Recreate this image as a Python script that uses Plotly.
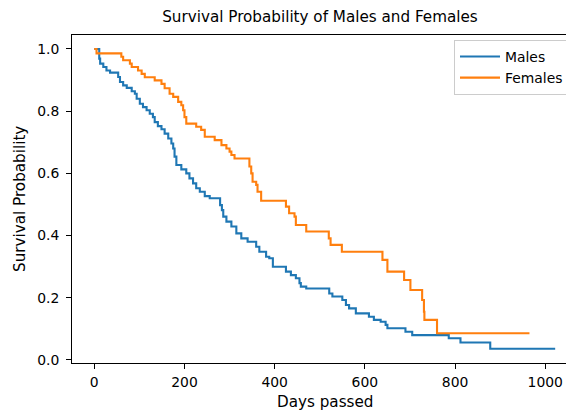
import plotly.graph_objects as go

# Kaplan-Meier step points (day, survival probability)
male_days = [0, 11, 13, 20, 27, 35, 53, 57, 64, 72, 83, 90, 94, 101, 108, 116, 123, 130, 134,
             141, 149, 156, 164, 171, 175, 178, 182, 193, 204, 211, 219, 226, 234, 245, 256,
             279, 283, 286, 293, 304, 315, 326, 340, 359, 366, 381, 388, 396, 425, 436, 447,
             455, 458, 470, 521, 528, 550, 558, 565, 580, 609, 620, 635, 646, 650, 690, 705,
             786, 812, 878, 1022]
male_surv = [1.0, 0.969, 0.953, 0.942, 0.931, 0.924, 0.910, 0.894, 0.883, 0.875, 0.864, 0.856,
             0.840, 0.824, 0.813, 0.803, 0.792, 0.781, 0.765, 0.752, 0.742, 0.728, 0.712, 0.696,
             0.680, 0.654, 0.627, 0.613, 0.600, 0.584, 0.568, 0.552, 0.541, 0.527, 0.520, 0.498,
             0.482, 0.461, 0.445, 0.429, 0.407, 0.391, 0.380, 0.364, 0.348, 0.332, 0.327, 0.300,
             0.284, 0.273, 0.263, 0.247, 0.236, 0.230, 0.214, 0.204, 0.193, 0.177, 0.166, 0.150,
             0.139, 0.129, 0.123, 0.113, 0.102, 0.091, 0.080, 0.070, 0.056, 0.036, 0.036]

female_days = [0, 5, 60, 64, 79, 83, 97, 105, 112, 134, 149, 156, 167, 175, 186, 193, 197, 200,
               204, 226, 237, 245, 267, 282, 293, 300, 304, 311, 344, 348, 351, 359, 362, 370,
               425, 432, 444, 447, 470, 520, 524, 549, 639, 650, 687, 701, 727, 731, 732, 760, 965]
female_surv = [1.0, 0.986, 0.975, 0.964, 0.953, 0.942, 0.931, 0.920, 0.909, 0.899, 0.888, 0.874,
               0.856, 0.846, 0.830, 0.819, 0.803, 0.781, 0.760, 0.750, 0.740, 0.718, 0.707, 0.691,
               0.680, 0.670, 0.659, 0.648, 0.622, 0.600, 0.573, 0.563, 0.541, 0.512, 0.493, 0.472,
               0.461, 0.434, 0.413, 0.391, 0.370, 0.348, 0.322, 0.284, 0.257, 0.225, 0.193, 0.155,
               0.129, 0.086, 0.086]

series_names = ["Males", "Females"]
series_colors = ["#1f77b4", "#ff7f0e"]
x_ticks = [0, 200, 400, 600, 800, 1000]
y_ticks = [0.0, 0.2, 0.4, 0.6, 0.8, 1.0]

FONT = "DejaVu Sans"
W, H = 566, 413
PL, PT, PB = 72, 35, 363          # plot-area pixel edges
PW, PH = W - PL, PB - PT

fig = go.Figure()
for name, xs, ys, col in [(series_names[0], male_days, male_surv, series_colors[0]),
                          (series_names[1], female_days, female_surv, series_colors[1])]:
    fig.add_trace(go.Scatter(x=xs, y=ys, mode="lines", name=name,
                             line=dict(color=col, width=2.1, shape="hv")))

label_font = dict(family=FONT, size=15.2, color="black")
fig.add_annotation(text="Days passed", xref="paper", yref="paper",
                   x=(325 - PL) / PW, y=(PB - 402) / PH, xanchor="center", yanchor="middle",
                   showarrow=False, font=label_font)
fig.add_annotation(text="Survival Probability", xref="paper", yref="paper", textangle=-90,
                   x=(20 - PL) / PW, y=(PB - 199) / PH, xanchor="center", yanchor="middle",
                   showarrow=False, font=label_font)

fig.update_layout(
    width=W, height=H,
    margin=dict(l=PL, r=0, t=PT, b=H - PB, autoexpand=False),
    paper_bgcolor="white", plot_bgcolor="white",
    font=dict(family=FONT, size=14, color="black"),
    title=dict(text="Survival Probability of Males and Females",
               font=dict(family=FONT, size=15.2, color="black"),
               xref="container", x=320 / W, xanchor="center",
               yref="container", y=1 - 17 / H, yanchor="middle"),
    showlegend=True,
    legend=dict(x=(454 - PL) / PW, xanchor="left", y=1 - (40 - PT) / PH, yanchor="top",
                bgcolor="rgba(255,255,255,0.8)", bordercolor="#cccccc", borderwidth=1,
                itemwidth=40,
                font=dict(family=FONT, size=13.9, color="black")),
    xaxis=dict(range=[-49.4, 1046], tickvals=x_ticks, showgrid=False, zeroline=False,
               showline=True, linecolor="black", linewidth=1, mirror=True,
               ticks="outside", ticklen=5, tickwidth=1, tickcolor="black",
               ticklabelstandoff=1,
               tickfont=dict(family=FONT, size=13.9, color="black")),
    yaxis=dict(range=[-0.0097, 1.045], tickvals=y_ticks, tickformat=".1f", showgrid=False,
               zeroline=False, showline=True, linecolor="black", linewidth=1,
               ticks="outside", ticklen=5, tickwidth=1, tickcolor="black",
               ticklabelstandoff=4,
               tickfont=dict(family=FONT, size=13.9, color="black")),
)

fig.write_html("out.html")
